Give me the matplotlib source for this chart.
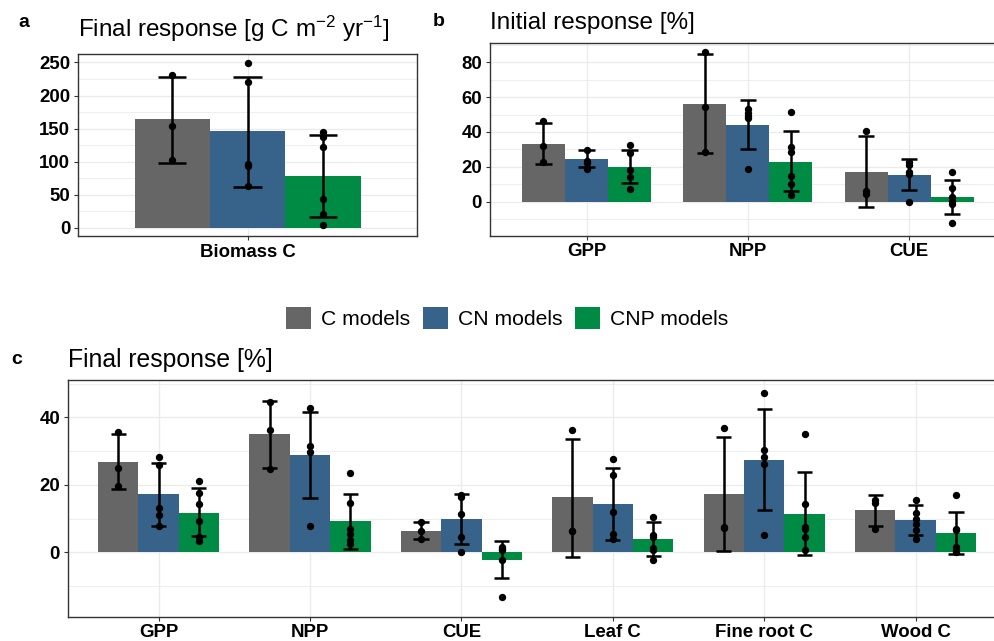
import numpy as np
import matplotlib.pyplot as plt
from matplotlib.patches import Patch

plt.rcParams['font.family'] = ['Liberation Sans', 'DejaVu Sans']
plt.rcParams['mathtext.fontset'] = 'custom'
plt.rcParams['mathtext.rm'] = 'Liberation Sans'
plt.rcParams['mathtext.default'] = 'regular'

models = ["C models", "CN models", "CNP models"]
cols = ["#666666", "#37638a", "#008b45"]

# a: final response biomass [g C m-2 yr-1]
cat_a = ["Biomass C"]
bar_a = [[164], [146], [78]]
lo_a = [[98], [62], [16]]
hi_a = [[228], [228], [141]]
pts_a = [[[231, 154, 103]],
         [[249, 220, 97, 94, 64]],
         [[145, 137, 122, 44, 21, 4.5]]]

# b: initial response [%]
cat_b = ["GPP", "NPP", "CUE"]
bar_b = [[33.3, 56, 17], [24.6, 44.2, 15.3], [20, 22.9, 2.5]]
lo_b = [[21.7, 27.7, -3.3], [20.1, 30, 6.6], [10.5, 6, -7.2]]
hi_b = [[45.3, 84.6, 37.4], [29.4, 58.5, 24.6], [29.4, 40.5, 12.4]]
pts_b = [
    [[46.3, 31.8, 22.9], [85.6, 54.4, 28.3], [40.5, 6, 4.5]],
    [[29.8, 23.5, 22, 19], [53, 51, 49, 48, 19], [22.5, 21, 17, 16, 0]],
    [[32.3, 28, 18.2, 14.3, 7], [51.5, 31.4, 28.7, 14.7, 10.1, 3.7],
     [17, 8, 2.7, 0.2, -1.2, -12.4]],
]

# c: final response [%]
cat_c = ["GPP", "NPP", "CUE", "Leaf C", "Fine root C", "Wood C"]
bar_c = [[26.7, 35, 6.2, 16.3, 17.2, 12.5],
         [17.2, 28.8, 9.8, 14.3, 27.3, 9.5],
         [11.6, 9.2, -2.2, 3.9, 11.3, 5.6]]
lo_c = [[18.7, 25, 4, -1.3, 0.3, 7.8],
        [7.9, 16, 2.4, 3.7, 12.4, 5],
        [4.7, 1.1, -7.7, -1.2, -0.9, -0.4]]
hi_c = [[34.9, 44.9, 8.9, 33.7, 34.2, 16.9],
        [26.5, 41.6, 17.2, 25, 42.4, 13.9],
        [18.9, 17.4, 3.4, 9.1, 23.7, 11.9]]
pts_c = [
    [[35.6, 25, 19.7], [44.6, 36.2, 24.6], [8.9, 6.3, 4], [36.3, 6.3, 6.2],
     [36.9, 7.4, 7.2], [15.4, 14.5, 7]],
    [[28.2, 26, 13.1, 10.9, 7.9], [42.8, 31.6, 29.8, 7.9], [17, 16.5, 11.3, 4.4, 0],
     [27.6, 23, 12, 5.4, 3.8], [47.2, 30.2, 28.2, 26.1, 5.2],
     [15.6, 11.7, 10, 8.5, 6.5, 3.8]],
    [[21.2, 17.6, 14.2, 9.4, 4.6, 3.3], [23.4, 14.7, 6.9, 5.5, 3.6, 2.4],
     [1.7, 1.1, 0.8, -2.2, -13.2], [10.4, 5, 4.6, 1.4, 0.6, -2.2],
     [34.9, 14.3, 7.5, 6.9, 4.6, 0.6], [16.9, 7, 6.5, 1.6, 0.6, 0.1]],
]

W, H = 995, 641


def panel(rect, cats, bars, lo, hi, pts, ylim, major, minor):
    # rect in pixels: left, top, right, bottom
    l, t, r, b = rect
    ax = fig.add_axes([l / W, 1 - b / H, (r - l) / W, (b - t) / H])
    x = np.arange(len(cats))
    w = 0.8 / 3
    for m in range(3):
        xm = x + (m - 1) * w
        ax.bar(xm, bars[m], width=w, color=cols[m], zorder=2)
        ax.vlines(xm, lo[m], hi[m], color="black", lw=1.8, zorder=3)
        ax.hlines(lo[m], xm - 0.05, xm + 0.05, color="black", lw=1.8, zorder=3)
        ax.hlines(hi[m], xm - 0.05, xm + 0.05, color="black", lw=1.8, zorder=3)
        for i in range(len(cats)):
            ax.scatter([xm[i]] * len(pts[m][i]), pts[m][i], s=28, color="black",
                       linewidths=0, zorder=4)
    ax.set_xlim(-0.6, len(cats) - 0.4)
    ax.set_ylim(ylim)
    ax.set_xticks(x, cats)
    ax.set_yticks(major)
    ax.set_yticks(minor, minor=True)
    ax.set_axisbelow(True)
    ax.grid(which="major", color="#ebebeb", lw=1.0)
    ax.grid(which="minor", axis="y", color="#ebebeb", lw=0.6)
    ax.tick_params(which="minor", length=0)
    ax.tick_params(which="major", length=3, width=0.8, color="#333333",
                   labelsize=13.4, pad=2.5, labelcolor="black")
    for lab in ax.get_xticklabels() + ax.get_yticklabels():
        lab.set_fontweight("bold")
    for s in ax.spines.values():
        s.set_color("#333333")
        s.set_linewidth(1.0)
    return ax


fig = plt.figure(figsize=(W / 100, H / 100), dpi=100)

panel((78, 54.3, 417, 236), cat_a, bar_a, lo_a, hi_a, pts_a, (-12.1, 262.2),
      [0, 50, 100, 150, 200, 250], [25, 75, 125, 175, 225])
panel((489.7, 42.7, 1006, 235.7), cat_b, bar_b, lo_b, hi_b, pts_b, (-19.5, 91.2),
      [0, 20, 40, 60, 80], [-10, 10, 30, 50, 70, 90])
panel((67.7, 380, 1006.4, 616.7), cat_c, bar_c, lo_c, hi_c, pts_c, (-19.1, 51.05),
      [0, 20, 40], [-10, 10, 30, 50])

# titles and panel letters
fig.text(78 / W, 1 - 36.7 / H, "Final response [g C m$^{-2}$ yr$^{-1}$]",
         fontsize=17.5, va="baseline")
fig.text(489.7 / W, 1 - 29.5 / H, "Initial response [%]", fontsize=17.5, va="baseline")
fig.text(67.7 / W, 1 - 366.7 / H, "Final response [%]", fontsize=17.8, va="baseline")
fig.text(18 / W, 1 - 26.7 / H, "a", fontsize=14, fontweight="bold", va="baseline")
fig.text(433 / W, 1 - 26 / H, "b", fontsize=14, fontweight="bold", va="baseline")
fig.text(11 / W, 1 - 364 / H, "c", fontsize=14, fontweight="bold", va="baseline")

handles = [Patch(facecolor=c, edgecolor="none") for c in cols]
fig.legend(handles, models, loc="center", bbox_to_anchor=(507 / W, 1 - 318.3 / H),
           ncol=3, frameon=False, fontsize=15.2, handlelength=1.2, handleheight=1.2,
           handletextpad=0.46, columnspacing=0.6, borderpad=0)

fig.savefig("out.png", dpi=100)
